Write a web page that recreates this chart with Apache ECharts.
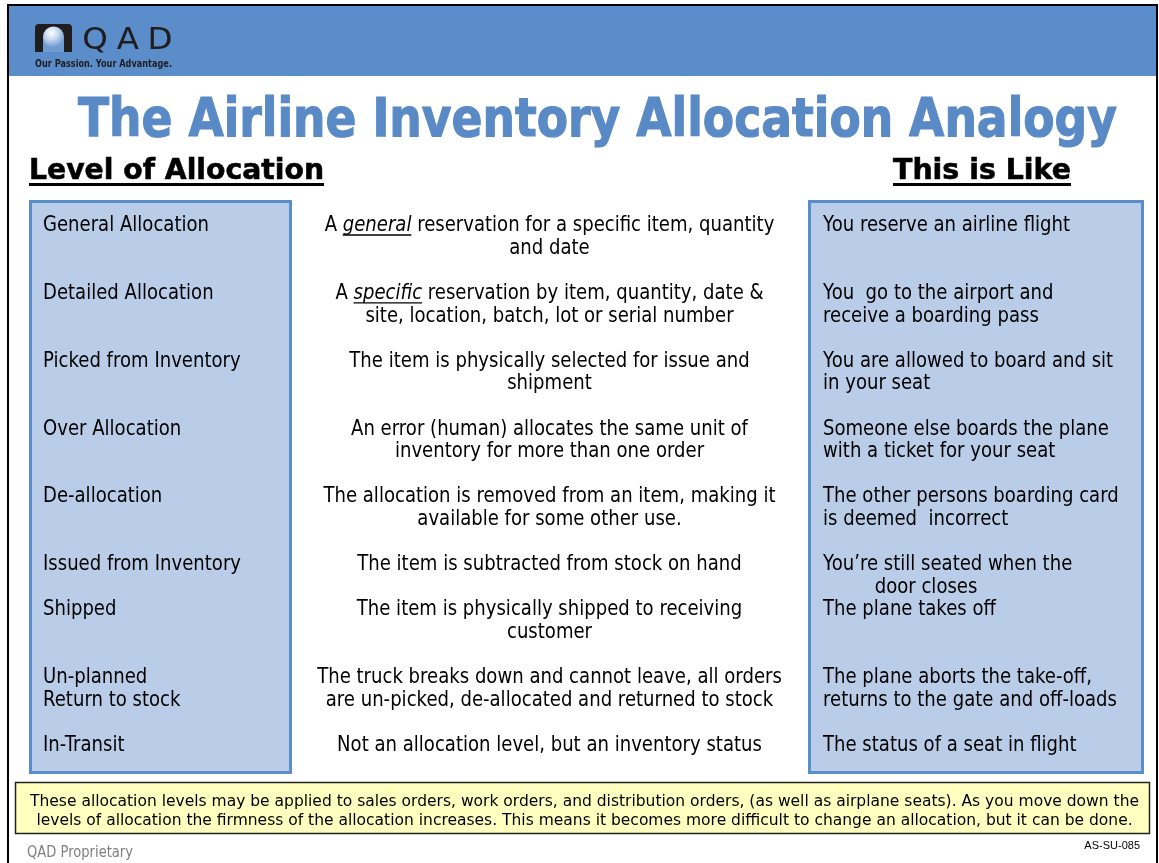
<!DOCTYPE html>
<html><head><meta charset="utf-8">
<script src="https://cdn.jsdelivr.net/npm/echarts@6/dist/echarts.min.js"></script>
<style>html,body{margin:0;padding:0;background:#fff}#c{width:1159px;height:863px}</style>
</head><body><div id="c"></div><script>
// ---------- content ----------
const brandName = 'QAD';
const brandTagline = 'Our Passion. Your Advantage.';
const titleText = 'The Airline Inventory Allocation Analogy';
const leftHeader = 'Level of Allocation';
const rightHeader = 'This is Like';
const levels = [
  'General Allocation',
  'Detailed Allocation',
  'Picked from Inventory',
  'Over Allocation',
  'De-allocation',
  'Issued from Inventory',
  'Shipped',
  'Un-planned\nReturn to stock',
  'In-Transit'
];
const descriptions = [
  'A _general_ reservation for a specific item, quantity\nand date',
  'A _specific_ reservation by item, quantity, date &\nsite, location, batch, lot or serial number',
  'The item is physically selected for issue and\nshipment',
  'An error (human) allocates the same unit of\ninventory for more than one order',
  'The allocation is removed from an item, making it\navailable for some other use.',
  'The item is subtracted from stock on hand',
  'The item is physically shipped to receiving\ncustomer',
  'The truck breaks down and cannot leave, all orders\nare un-picked, de-allocated and returned to stock',
  'Not an allocation level, but an inventory status'
];
const analogies = [
  'You reserve an airline flight',
  'You  go to the airport and\nreceive a boarding pass',
  'You are allowed to board and sit\nin your seat',
  'Someone else boards the plane\nwith a ticket for your seat',
  'The other persons boarding card\nis deemed  incorrect',
  'You\u2019re still seated when the\n         door closes',
  'The plane takes off',
  'The plane aborts the take-off,\nreturns to the gate and off-loads',
  'The status of a seat in flight'
];
const footerLines = [
  'These allocation levels may be applied to sales orders, work orders, and distribution orders, (as well as airplane seats). As you move down the',
  'levels of allocation the firmness of the allocation increases. This means it becomes more difficult to change an allocation, but it can be done.'
];
const proprietaryText = 'QAD Proprietary';
const slideCode = 'AS-SU-085';

// ---------- layout ----------
const rowLineIndex = [0, 3, 6, 9, 12, 15, 17, 20, 23];
const FAM = '"DejaVu Sans", Verdana, sans-serif';
const BLUE = '#5b8dcb';
const BOXFILL = '#b9cde8';
const TITLE = '#5a8ac6';

const mctx = document.createElement('canvas').getContext('2d');
function measure(s, size, weight, style, fam) {
  mctx.font = (style || 'normal') + ' ' + (weight || 'normal') + ' ' + size + 'px ' + (fam || FAM);
  return mctx.measureText(s).width;
}
function mid(baseline, size) { return baseline - 0.30 * size; }
function txt(s, x, baseline, o) {
  const st = {
    text: s, x: 0, y: 0, fill: o.color || '#000',
    fontSize: o.size, fontFamily: o.fam || FAM, fontWeight: o.weight || 'normal',
    fontStyle: o.style || 'normal', align: o.align || 'left', verticalAlign: 'middle'
  };
  if (o.stroke) { st.stroke = o.color || '#000'; st.lineWidth = o.stroke; }
  return { type: 'text', x: x, y: mid(baseline, o.size), scaleX: o.sx || 1, silent: true, z: 10, style: st };
}
function line(x1, y1, x2, y2, w, c) {
  return { type: 'line', silent: true, z: 11, shape: { x1, y1, x2, y2 }, style: { stroke: c || '#000', lineWidth: w } };
}

const g = [];
g.push({ type: 'rect', silent: true, z: 1, shape: { x: 8, y: 5, width: 1149, height: 870 }, style: { fill: '#fff', stroke: '#000', lineWidth: 2 } });
g.push({ type: 'rect', silent: true, z: 2, shape: { x: 9, y: 6, width: 1147, height: 70 }, style: { fill: BLUE } });

// logo icon
g.push({ type: 'rect', silent: true, z: 3, shape: { x: 35, y: 24, width: 37, height: 28, r: 4 }, style: { fill: '#1f1d1e' } });
g.push({ type: 'rect', silent: true, z: 4, shape: { x: 43, y: 36, width: 21, height: 16 }, style: { fill: '#6f9ad2' } });
g.push({ type: 'circle', silent: true, z: 5, shape: { cx: 53.5, cy: 37, r: 10.5 }, style: {
  fill: new echarts.graphic.RadialGradient(0.4, 0.3, 0.7, [{ offset: 0, color: '#ffffff' }, { offset: 0.45, color: '#c9daf0' }, { offset: 1, color: '#6f9ad2' }])
} });
g.push({ type: 'rect', silent: true, z: 5, shape: { x: 35, y: 46, width: 8, height: 6 }, style: { fill: '#1f1d1e' } });
g.push({ type: 'rect', silent: true, z: 5, shape: { x: 64, y: 46, width: 8, height: 6 }, style: { fill: '#1f1d1e' } });
const brandCenters = [95, 128, 160];
brandName.split('').forEach((ch, i) => {
  g.push(txt(ch, brandCenters[i], 50, { size: 31, align: 'center', color: '#1f1d1e', sx: 1.05 }));
});
{
  const w = measure(brandTagline, 10, 'bold');
  g.push(txt(brandTagline, 35, 67, { size: 10, weight: 'bold', color: '#1f1d1e', sx: 137 / w }));
}

// title
{
  const w = measure(titleText, 53, 'bold');
  g.push(txt(titleText, 597.5, 138, { size: 53, weight: 'bold', color: TITLE, align: 'center', sx: 1039 / w, stroke: 1.2 }));
}
// column headers
{
  const w1 = measure(leftHeader, 29, 'bold');
  g.push(txt(leftHeader, 29, 180, { size: 29, weight: 'bold', sx: 295 / w1, stroke: 0.6 }));
  g.push(line(29, 184.5, 324, 184.5, 3));
  const w2 = measure(rightHeader, 29, 'bold');
  g.push(txt(rightHeader, 893, 180, { size: 29, weight: 'bold', sx: 178 / w2, stroke: 0.6 }));
  g.push(line(893, 184.5, 1071, 184.5, 3));
}

// boxes
g.push({ type: 'rect', silent: true, z: 3, shape: { x: 30.5, y: 201.5, width: 260, height: 571 }, style: { fill: BOXFILL, stroke: BLUE, lineWidth: 3 } });
g.push({ type: 'rect', silent: true, z: 3, shape: { x: 809.5, y: 201.5, width: 333, height: 571 }, style: { fill: BOXFILL, stroke: BLUE, lineWidth: 3 } });

// body text
const BODY = 21;
const SX = 166 / measure('General Allocation', BODY);
const LINE0 = 232, LH = 22.6;
function baseOf(i, j) { return LINE0 + LH * (rowLineIndex[i] + j); }

levels.forEach((t, i) => {
  t.split('\n').forEach((ln, j) => g.push(txt(ln, 43, baseOf(i, j), { size: BODY, sx: SX })));
});
analogies.forEach((t, i) => {
  t.split('\n').forEach((ln, j) => g.push(txt(ln, 823, baseOf(i, j), { size: BODY, sx: SX })));
});
const MIDX = 549.5;
descriptions.forEach((t, i) => {
  t.split('\n').forEach((ln, j) => {
    const b = baseOf(i, j);
    const parts = ln.split('_');
    const segs = parts.map((p, k) => ({ t: p, it: k % 2 === 1 })).filter(s => s.t.length);
    segs.forEach(s => s.w = measure(s.t, BODY, 'normal', s.it ? 'italic' : 'normal') * SX);
    const total = segs.reduce((a, s) => a + s.w, 0);
    let x = MIDX - total / 2;
    segs.forEach(s => {
      g.push(txt(s.t, x, b, { size: BODY, sx: SX, style: s.it ? 'italic' : 'normal' }));
      if (s.it) g.push(line(x, b + 3, x + s.w, b + 3, 1.3));
      x += s.w;
    });
  });
});

// footer
g.push({ type: 'rect', silent: true, z: 3, shape: { x: 15.5, y: 782.5, width: 1134, height: 51 }, style: { fill: '#ffffc0', stroke: '#222', lineWidth: 1.5 } });
{
  const w = measure(footerLines[0], 16);
  const fsx = 1109 / w;
  footerLines.forEach((ln, j) => g.push(txt(ln, 584.5, 807 + 19 * j, { size: 16, sx: fsx, align: 'center' })));
}
{
  const w = measure(proprietaryText, 15);
  g.push(txt(proprietaryText, 27, 858, { size: 15, color: '#808080', sx: 106 / w }));
  g.push(txt(slideCode, 1140, 849, { size: 11, fam: '"Liberation Sans", Arial, sans-serif', align: 'right' }));
}

const chart = echarts.init(document.getElementById('c'), null, { renderer: 'canvas' });
chart.setOption({ animation: false, backgroundColor: '#fff', graphic: { elements: g } });
</script></body></html>
